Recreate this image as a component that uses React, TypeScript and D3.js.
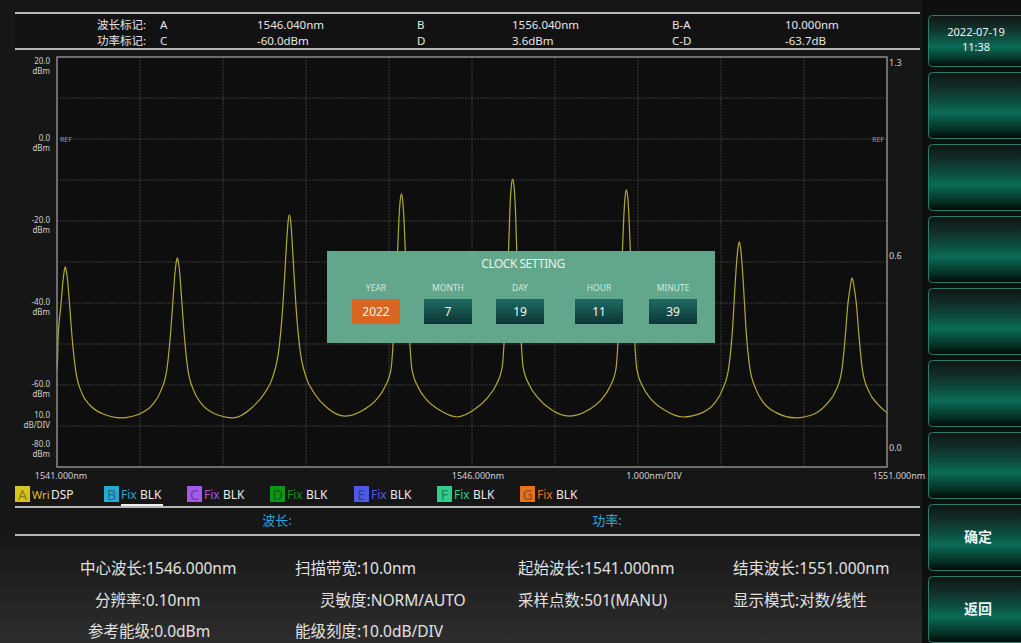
import React from 'react';
import * as d3 from 'd3';

// ---------- data ----------
const X_DOMAIN: [number, number] = [1541, 1551];
const Y_DOMAIN: [number, number] = [-80, 20];
const Y_TICKS = [20, 0, -20, -40, -60, -80];
const RIGHT_LABELS = ['1.3', '0.6', '0.0'];
const X_LABELS = ['1541.000nm', '1546.000nm', '1.000nm/DIV', '1551.000nm'];

// trace: [wavelength nm, level dBm]
const TRACE: [number, number][] = [
  [1541.000, -56.0], [1541.004, -56.0], [1541.012, -49.0], [1541.05, -40], [1541.07, -35], [1541.085, -32.5], [1541.10, -31.2],
  [1541.115, -32.5], [1541.13, -35], [1541.15, -40], [1541.18, -48], [1541.225, -56.5], [1541.30, -62], [1541.40, -65], [1541.55, -67],
  [1541.775, -68.0],
  [1542.00, -67], [1542.15, -64.8], [1542.25, -61.5], [1542.325, -56], [1542.37, -47], [1542.40, -38.5], [1542.42, -33], [1542.435, -30.3], [1542.45, -29.0],
  [1542.465, -30.3], [1542.48, -33], [1542.50, -38.5], [1542.53, -47], [1542.575, -56], [1542.65, -61.5], [1542.75, -64.8], [1542.90, -67],
  [1543.125, -68.0],
  [1543.35, -65.5], [1543.50, -62], [1543.60, -58], [1543.675, -51], [1543.72, -41], [1543.75, -31], [1543.77, -24], [1543.785, -20], [1543.80, -18.5],
  [1543.815, -20], [1543.83, -24], [1543.85, -31], [1543.88, -41], [1543.925, -51], [1544.00, -58], [1544.10, -62], [1544.25, -65.5],
  [1544.475, -67.6],
  [1544.70, -66], [1544.85, -63.5], [1544.95, -60.5], [1545.025, -56], [1545.07, -42], [1545.10, -29], [1545.12, -19.5], [1545.135, -15], [1545.15, -13.4],
  [1545.165, -15], [1545.18, -19.5], [1545.20, -29], [1545.23, -42], [1545.275, -56], [1545.35, -60.5], [1545.45, -63.5], [1545.60, -66],
  [1545.82, -67.8],
  [1546.04, -65.8], [1546.19, -63], [1546.29, -60], [1546.365, -55.5], [1546.41, -40], [1546.44, -27.5], [1546.46, -15.6], [1546.475, -11.3], [1546.49, -9.8],
  [1546.505, -11.3], [1546.52, -15.6], [1546.54, -27.5], [1546.57, -40], [1546.615, -55.5], [1546.69, -60], [1546.79, -63], [1546.94, -65.8],
  [1547.175, -67.6],
  [1547.41, -66], [1547.56, -63.5], [1547.66, -60.5], [1547.735, -56], [1547.78, -41.5], [1547.81, -28.5], [1547.83, -18.5], [1547.845, -14], [1547.86, -12.4],
  [1547.875, -14], [1547.89, -18.5], [1547.91, -28.5], [1547.94, -41.5], [1547.985, -56], [1548.06, -60.5], [1548.16, -63.5], [1548.31, -66],
  [1548.54, -67.8],
  [1548.77, -66.8], [1548.92, -64.5], [1549.02, -61], [1549.095, -55.5], [1549.14, -46], [1549.17, -35.5], [1549.19, -29.5], [1549.205, -26.5], [1549.22, -25.1],
  [1549.235, -26.5], [1549.25, -29.5], [1549.27, -35.5], [1549.30, -46], [1549.345, -55.5], [1549.42, -61], [1549.52, -64.5], [1549.67, -66.8],
  [1549.90, -68.0],
  [1550.13, -67], [1550.28, -64.5], [1550.38, -61.5], [1550.455, -56.5], [1550.50, -47.5], [1550.53, -40], [1550.55, -37], [1550.565, -35], [1550.58, -33.9],
  [1550.595, -35], [1550.61, -37], [1550.63, -40], [1550.66, -47.5], [1550.705, -56.5], [1550.78, -61.5], [1550.88, -64.5], [1551.00, -66.8],
];

const HEADER_LABELS = ['波长标记:', '功率标记:'];
const HEADER_ROW1 = ['A', '1546.040nm', 'B', '1556.040nm', 'B-A', '10.000nm'];
const HEADER_ROW2 = ['C', '-60.0dBm', 'D', '3.6dBm', 'C-D', '-63.7dB'];

const TRACE_LETTERS = ['A', 'B', 'C', 'D', 'E', 'F', 'G'];
const TRACE_MODES = ['Wri', 'Fix', 'Fix', 'Fix', 'Fix', 'Fix', 'Fix'];
const TRACE_STATES = ['DSP', 'BLK', 'BLK', 'BLK', 'BLK', 'BLK', 'BLK'];
const TRACE_COLORS = ['#d6c51c', '#2aa8d2', '#a45ae6', '#14931a', '#4e5ae6', '#2ccf8c', '#e2741f'];

const CLOCK_FIELDS = ['YEAR', 'MONTH', 'DAY', 'HOUR', 'MINUTE'];
const CLOCK_VALUES = ['2022', '7', '19', '11', '39'];

const PARAMS_ROW1 = ['中心波长:1546.000nm', '扫描带宽:10.0nm', '起始波长:1541.000nm', '结束波长:1551.000nm'];
const PARAMS_ROW2 = ['分辨率:0.10nm', '灵敏度:NORM/AUTO', '采样点数:501(MANU)', '显示模式:对数/线性'];
const PARAMS_ROW3 = ['参考能级:0.0dBm', '能级刻度:10.0dB/DIV'];

const DATE_TEXT = ['2022-07-19', '11:38'];
const SOFT_KEYS = ['', '', '', '', '', '', '确定', '返回'];

// ---------- layout ----------
const W = 1021;
const H = 643;
const PL = 57, PR = 887, PT = 57, PB = 467;
const FONT = '"Noto Sans", "Noto Sans CJK SC", sans-serif';

export default function App() {
  const x = d3.scaleLinear().domain(X_DOMAIN).range([PL, PR]);
  const y = d3.scaleLinear().domain(Y_DOMAIN).range([PB, PT]);
  const line = d3
    .line<[number, number]>()
    .x((d) => x(d[0]))
    .y((d) => y(d[1]))
    .curve(d3.curveMonotoneX);

  const xGrid = d3.range(X_DOMAIN[0], X_DOMAIN[1] + 0.001, 1);
  const yGrid = d3.range(Y_DOMAIN[0], Y_DOMAIN[1] + 0.001, 10);

  // y label baselines: [value, unit]
  const yLabelPos = (v: number): [number, number] => {
    if (v === 20) return [y(v) + 7, y(v) + 17];
    if (v === -80) return [y(v) - 20, y(v) - 10];
    return [y(v) + 2, y(v) + 12];
  };

  const headerX = [160, 257, 417, 512, 672, 785];
  const legendX = [15, 104, 187, 270, 354, 437, 520];
  const paramsX1 = [80, 295, 518, 733];
  const paramsX2 = [95, 320, 518, 733];
  const paramsX3 = [88, 295];

  const dlg = { x: 327, y: 251, w: 388, h: 92 };
  const clockCx = [376, 448, 520, 599, 673];

  return (
    <svg
      width={W}
      height={H}
      viewBox={`0 0 ${W} ${H}`}
      style={{ position: 'fixed', left: 0, top: 0, display: 'block' }}
      fontFamily={FONT}
    >
      <defs>
        <linearGradient id="btn" x1="0" y1="0" x2="0" y2="1">
          <stop offset="0%" stopColor="#101614" />
          <stop offset="25%" stopColor="#12302a" />
          <stop offset="62%" stopColor="#0a6b56" />
          <stop offset="85%" stopColor="#063428" />
          <stop offset="100%" stopColor="#040807" />
        </linearGradient>
        <linearGradient id="clockbox" x1="0" y1="0" x2="0" y2="1">
          <stop offset="0%" stopColor="#1e6b62" />
          <stop offset="100%" stopColor="#0c3533" />
        </linearGradient>
        <linearGradient id="bottombg" x1="0" y1="0" x2="0" y2="1">
          <stop offset="0%" stopColor="#171717" />
          <stop offset="100%" stopColor="#2d2d2d" />
        </linearGradient>
      </defs>

      {/* backgrounds */}
      <rect x={0} y={0} width={W} height={H} fill="#161616" />
      <rect x={922} y={0} width={W - 922} height={H} fill="#0d100f" />
      <rect x={0} y={536} width={922} height={H - 536} fill="url(#bottombg)" />

      {/* header */}
      <rect x={15} y={13} width={905} height={36} fill="#121212" />
      <line x1={15} x2={920} y1={13} y2={13} stroke="#b8b8b8" strokeWidth={2} />
      <line x1={15} x2={920} y1={49} y2={49} stroke="#b8b8b8" strokeWidth={2} />
      {HEADER_LABELS.map((t, i) => (
        <text key={'hl' + i} x={97} y={29 + i * 16} fill="#e6e6e6" fontSize={11.5}>{t}</text>
      ))}
      {HEADER_ROW1.map((t, i) => (
        <text key={'h1' + i} x={headerX[i]} y={29} fill="#e6e6e6" fontSize={11.5}>{t}</text>
      ))}
      {HEADER_ROW2.map((t, i) => (
        <text key={'h2' + i} x={headerX[i]} y={45} fill="#e6e6e6" fontSize={11.5}>{t}</text>
      ))}

      {/* plot */}
      <rect x={PL} y={PT} width={PR - PL} height={PB - PT} fill="#0e0e0e" />
      {xGrid.slice(1, -1).map((v) => (
        <line key={'gx' + v} x1={x(v)} x2={x(v)} y1={PT} y2={PB} stroke="#3b3b3b" strokeWidth={1} strokeDasharray="2,1" />
      ))}
      {yGrid.slice(1, -1).map((v) => (
        <line key={'gy' + v} x1={PL} x2={PR} y1={y(v)} y2={y(v)} stroke="#3b3b3b" strokeWidth={1} strokeDasharray="2,1" />
      ))}
      <path d={line(TRACE) || ''} fill="none" stroke="#b2a934" strokeWidth={1.2} />
      <rect x={PL} y={PT} width={PR - PL} height={PB - PT} fill="none" stroke="#8a8a8a" strokeWidth={1.5} />

      <text x={PL + 3} y={y(0) + 3} fill="#9a9a9a" fontSize={7}>REF</text>
      <text x={PR - 3} y={y(0) + 3} fill="#9a9a9a" fontSize={7} textAnchor="end">REF</text>

      {/* left axis labels */}
      {Y_TICKS.map((v) => {
        const [a, b] = yLabelPos(v);
        return (
          <g key={'yl' + v}>
            <text x={50} y={a} fill="#d0d0d0" fontSize={8} textAnchor="end">{v.toFixed(1)}</text>
            <text x={50} y={b} fill="#d0d0d0" fontSize={8} textAnchor="end">dBm</text>
          </g>
        );
      })}
      <text x={50} y={y(-70) - 8} fill="#d0d0d0" fontSize={8} textAnchor="end">10.0</text>
      <text x={50} y={y(-70) + 2} fill="#d0d0d0" fontSize={8} textAnchor="end">dB/DIV</text>

      {/* right axis labels */}
      {RIGHT_LABELS.map((t, i) => (
        <text key={'rl' + i} x={889} y={PT + [9, 202, 394][i]} fill="#d0d0d0" fontSize={9}>{t}</text>
      ))}

      {/* x labels */}
      <text x={x(1541) + 4} y={479} fill="#d0d0d0" fontSize={9} textAnchor="middle">{X_LABELS[0]}</text>
      <text x={x(1546) + 6} y={479} fill="#d0d0d0" fontSize={9} textAnchor="middle">{X_LABELS[1]}</text>
      <text x={x(1548) + 16} y={479} fill="#d0d0d0" fontSize={9} textAnchor="middle">{X_LABELS[2]}</text>
      <text x={x(1551) + 12} y={479} fill="#d0d0d0" fontSize={9} textAnchor="middle">{X_LABELS[3]}</text>

      {/* trace legend */}
      {TRACE_LETTERS.map((l, i) => {
        const lx = legendX[i];
        const c = TRACE_COLORS[i];
        return (
          <g key={'lg' + l}>
            <rect x={lx} y={486} width={15} height={16} fill={c} />
            <text x={lx + 7.5} y={499.5} fill={d3.color(c)!.darker(1.2).formatHex()} fontSize={14} textAnchor="middle">{l}</text>
            <text x={lx + 17} y={499} fill={c} fontSize={i === 0 ? 11 : 12}>{TRACE_MODES[i]}</text>
            <text x={lx + 36} y={499} fill="#ececec" fontSize={12}>{TRACE_STATES[i]}</text>
          </g>
        );
      })}
      <line x1={121} x2={163} y1={505} y2={505} stroke="#f0f0f0" strokeWidth={2} />
      <line x1={15} x2={920} y1={507} y2={507} stroke="#b8b8b8" strokeWidth={2} />

      {/* wavelength / power */}
      <text x={277} y={525} fill="#2aa6d6" fontSize={13} textAnchor="middle">波长:</text>
      <text x={607} y={525} fill="#2aa6d6" fontSize={13} textAnchor="middle">功率:</text>
      <line x1={15} x2={920} y1={535} y2={535} stroke="#b8b8b8" strokeWidth={2} />

      {/* params */}
      {PARAMS_ROW1.map((t, i) => (
        <text key={'p1' + i} x={paramsX1[i]} y={574} fill="#e2e2e2" fontSize={15.5}>{t}</text>
      ))}
      {PARAMS_ROW2.map((t, i) => (
        <text key={'p2' + i} x={paramsX2[i]} y={606} fill="#e2e2e2" fontSize={15.5}>{t}</text>
      ))}
      {PARAMS_ROW3.map((t, i) => (
        <text key={'p3' + i} x={paramsX3[i]} y={637} fill="#e2e2e2" fontSize={15.5}>{t}</text>
      ))}

      {/* soft keys */}
      <rect x={928.5} y={15.5} width={98} height={51} rx={4} fill="url(#btn)" stroke="#2b7d66" strokeWidth={1} />
      <text x={976} y={36} fill="#eef4f2" fontSize={11} textAnchor="middle">{DATE_TEXT[0]}</text>
      <text x={976} y={51} fill="#eef4f2" fontSize={11} textAnchor="middle">{DATE_TEXT[1]}</text>
      {SOFT_KEYS.map((k, i) => (
        <g key={'sk' + i}>
          <rect x={928.5} y={72.5 + i * 72} width={98} height={66} rx={4} fill="url(#btn)" stroke="#2b7d66" strokeWidth={1} />
          {k && (
            <text x={978} y={72 + i * 72 + 38} fill="#eef4f2" fontSize={14} fontWeight="bold" textAnchor="middle">{k}</text>
          )}
        </g>
      ))}

      {/* clock setting dialog */}
      <rect x={dlg.x} y={dlg.y} width={dlg.w} height={dlg.h} fill="#62a68c" />
      <text x={523} y={268} fill="#e9f2ec" fontSize={12} textAnchor="middle" letterSpacing={-0.5}>CLOCK SETTING</text>
      {CLOCK_FIELDS.map((f, i) => (
        <g key={'cf' + f}>
          <text x={clockCx[i]} y={291} fill="#d3e8de" fontSize={8.5} textAnchor="middle">{f}</text>
          <rect x={clockCx[i] - 24} y={299} width={48} height={25} fill={i === 0 ? '#d8661f' : 'url(#clockbox)'} />
          <text x={clockCx[i]} y={316} fill="#f2f2f2" fontSize={12} textAnchor="middle">{CLOCK_VALUES[i]}</text>
        </g>
      ))}
    </svg>
  );
}
